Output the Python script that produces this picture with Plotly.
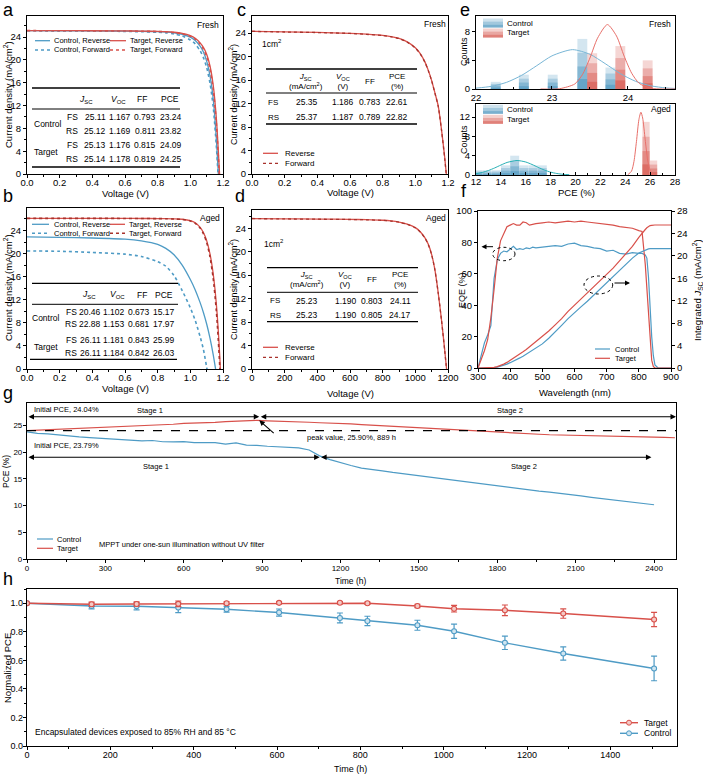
import plotly.graph_objects as go

W, H = 703, 774
FONT = "Liberation Sans, Arial, Helvetica, sans-serif"
BLUE = "#4e9bc5"
RED = "#d8504a"
DRED = "#a8322c"
TEAL = "#27b0b5"
LBLUE = "#78b6d6"
LRED = "#e8706a"

# ---------------- data ----------------
volt = [0, 0.2, 0.4, 0.6, 0.7, 0.8, 0.85, 0.9, 0.95, 1.0, 1.03, 1.06, 1.08, 1.10, 1.12, 1.14, 1.16, 1.18, 1.20]
volt_mv = [0, 200, 400, 600, 700, 800, 850, 900, 950, 1000, 1030, 1060, 1080, 1100, 1120, 1140, 1160, 1180, 1200]
# panel a (fresh)
a_ctrl_rev = [25.12, 25.11, 25.09, 25.05, 25.01, 24.95, 24.88, 24.75, 24.5, 24.0, 23.4, 22.4, 21.4, 19.8, 17.3, 13.2, 5.8, -4.5, -15]
a_ctrl_fwd = [25.11, 25.09, 25.06, 25.0, 24.94, 24.85, 24.75, 24.55, 24.2, 23.5, 22.8, 21.6, 20.4, 18.7, 16.0, 11.8, 4.6, -5.5, -16]
a_tgt_rev = [25.14, 25.13, 25.11, 25.08, 25.05, 25.0, 24.95, 24.85, 24.65, 24.25, 23.8, 23.0, 22.2, 21.0, 19.0, 15.6, 9.5, -0.5, -12]
a_tgt_fwd = [25.13, 25.12, 25.10, 25.07, 25.03, 24.98, 24.92, 24.8, 24.58, 24.15, 23.65, 22.8, 21.9, 20.6, 18.5, 14.9, 8.6, -1.5, -13]
# panel b (aged)
b_ctrl_rev = [22.88, 22.8, 22.7, 22.5, 22.2, 21.6, 20.9, 19.8, 18.0, 15.5, 13.7, 11.5, 9.8, 7.8, 5.4, 2.5, -1.0, -5.0, -10.0]
b_ctrl_fwd = [20.46, 20.4, 20.2, 19.9, 19.5, 18.6, 17.8, 16.2, 13.6, 10.6, 8.4, 5.6, 3.4, 0.3, -3.0, -6.0, -9.0, -12.0, -15.0]
b_tgt_rev = [26.11, 26.1, 26.1, 26.09, 26.08, 26.07, 26.05, 26.02, 25.95, 25.71, 25.33, 24.55, 23.65, 22.25, 20.0, 16.5, 11.0, 2.3, -11.5]
b_tgt_fwd = [26.11, 26.1, 26.1, 26.09, 26.08, 26.06, 26.04, 26.0, 25.92, 25.66, 25.25, 24.42, 23.45, 21.95, 19.5, 15.7, 9.8, 0.6, -13.0]
# panel c (1 cm2 fresh)
c_rev = [24.3, 24.2, 24.1, 23.95, 23.8, 23.6, 23.4, 23.1, 22.5, 21.5, 20.5, 19.0, 17.6, 15.9, 13.8, 11.6, 7.6, 2.8, -3.0]
c_fwd = [24.28, 24.18, 24.08, 23.93, 23.78, 23.57, 23.37, 23.06, 22.45, 21.45, 20.45, 18.95, 17.55, 15.85, 13.75, 11.55, 7.5, 2.6, -3.2]
# panel d (1 cm2 aged)
d_rev = [25.65, 25.6, 25.55, 25.5, 25.45, 25.35, 25.25, 25.05, 24.7, 24.1, 23.4, 22.3, 21.2, 19.5, 16.9, 13.0, 8.4, 3.2, -2.5]
d_fwd = [25.63, 25.58, 25.53, 25.48, 25.43, 25.33, 25.22, 25.02, 24.67, 24.06, 23.36, 22.25, 21.15, 19.45, 16.85, 12.95, 8.35, 3.1, -2.6]

tab_a = [["25.11", "1.167", "0.793", "23.24"], ["25.12", "1.169", "0.811", "23.82"],
         ["25.13", "1.176", "0.815", "24.09"], ["25.14", "1.178", "0.819", "24.25"]]
tab_b = [["20.46", "1.102", "0.673", "15.17"], ["22.88", "1.153", "0.681", "17.97"],
         ["26.11", "1.181", "0.843", "25.99"], ["26.11", "1.184", "0.842", "26.03"]]
tab_c = [["25.35", "1.186", "0.783", "22.61"], ["25.37", "1.187", "0.789", "22.82"]]
tab_d = [["25.23", "1.190", "0.803", "24.11"], ["25.23", "1.190", "0.805", "24.17"]]

# panel e histograms
e_fresh_ctrl_x = [22.26, 22.63, 23.01, 23.40, 23.77]
e_fresh_ctrl_n = [1, 2, 2, 7, 3]
e_fresh_tgt_x = [23.53, 23.90, 24.26]
e_fresh_tgt_n = [5, 6, 4]
e_fresh_ctrl_fit_x = [22.0, 22.2, 22.4, 22.6, 22.8, 23.0, 23.27, 23.5, 23.7, 23.9, 24.1, 24.3, 24.5, 24.62]
e_fresh_ctrl_fit_y = [0.12, 0.37, 0.92, 1.9, 3.26, 4.63, 5.5, 4.85, 3.55, 2.15, 1.08, 0.45, 0.15, 0.08]
e_fresh_tgt_fit_x = [22.85, 23.1, 23.3, 23.4, 23.5, 23.6, 23.73, 23.85, 23.95, 24.05, 24.15, 24.3, 24.45, 24.62]
e_fresh_tgt_fit_y = [0.0, 0.04, 0.7, 1.99, 4.33, 7.1, 9.0, 7.4, 4.6, 2.2, 0.78, 0.1, 0.0, 0.0]
e_aged_ctrl_x = [12.15, 12.89, 13.63, 14.37, 15.11, 15.85, 16.59, 17.33]
e_aged_ctrl_n = [1, 1, 1, 2, 4, 2, 2, 2]
e_aged_tgt_x = [25.67, 26.28]
e_aged_tgt_n = [11, 3]
e_aged_ctrl_fit_x = [12.0, 12.5, 13.0, 13.5, 14.0, 14.5, 15.3, 16.0, 16.5, 17.0, 17.5, 18.0, 18.5, 19.0, 19.5]
e_aged_ctrl_fit_y = [0.27, 0.53, 0.93, 1.46, 2.06, 2.6, 3.0, 2.69, 2.18, 1.58, 1.02, 0.59, 0.31, 0.14, 0.06]
e_aged_tgt_fit_x = [24.2, 24.5, 24.7, 24.9, 25.1, 25.26, 25.4, 25.6, 25.8, 26.0, 26.2, 26.4]
e_aged_tgt_fit_y = [0.05, 0.78, 2.8, 6.9, 11.5, 13.0, 11.8, 7.4, 3.1, 0.9, 0.17, 0.02]

# panel f EQE / integrated Jsc
wl = [300, 310, 320, 330, 340, 350, 360, 370, 380, 390, 400, 410, 420, 430, 440, 450, 460, 470, 480,
      500, 520, 540, 560, 580, 600, 620, 640, 660, 680, 700, 720, 740, 760, 780, 800,
      810, 820, 825, 830, 835, 840, 845, 850, 860, 880, 900]
eqe_ctrl = [0, 8, 16, 21, 27, 57, 69, 73, 74.5, 74, 76, 77.5, 75.5, 76, 75.5, 76.5, 76, 77, 76.5,
            77, 77.5, 78, 77.5, 79, 79.5, 78, 77.5, 76.5, 76, 74.5, 75, 73, 72.5, 73.5, 73,
            73, 72, 70, 58, 35, 20, 8, 2, 0, 0, 0]
eqe_tgt = [0, 5, 11, 18, 32, 50, 70, 81, 86, 90, 91, 92, 91, 91, 93, 92.5, 91, 91.5, 92,
           92.5, 93, 92.5, 93, 93.5, 93, 93.5, 93, 92.5, 92, 91.5, 91, 90, 89.5, 89, 87.5,
           87, 66, 50, 30, 14, 5, 1, 0, 0, 0, 0]
jint_ctrl = [0, 0, 0, 0, 0, 0.05, 0.15, 0.3, 0.5, 0.7, 0.95, 1.2, 1.5, 1.8, 2.1, 2.45, 2.8, 3.15, 3.5,
             4.3, 5.3, 6.4, 7.6, 8.8, 9.9, 10.9, 11.9, 13.0, 14.1, 15.2, 16.3, 17.5, 18.6, 19.6, 20.5,
             20.8, 21.05, 21.15, 21.25, 21.3, 21.3, 21.3, 21.3, 21.3, 21.3, 21.3]
jint_tgt = [0, 0, 0, 0, 0, 0.1, 0.25, 0.45, 0.7, 1.0, 1.35, 1.7, 2.1, 2.5, 2.9, 3.3, 3.75, 4.2, 4.65,
            5.6, 6.6, 7.7, 8.8, 10.1, 11.2, 12.2, 13.3, 14.4, 15.5, 16.6, 17.8, 19.1, 20.4, 21.7, 23.3,
            24.1, 24.7, 25.0, 25.25, 25.4, 25.45, 25.5, 25.5, 25.5, 25.5, 25.5]

# panel g MPPT
time_g_tgt = list(range(0, 2481, 40))
pce_g_tgt = [24.04, 24.12, 24.18, 24.3, 24.35, 24.45, 24.5, 24.62, 24.68, 24.75,
             24.88, 24.92, 25.05, 25.15, 25.22, 25.38, 25.42, 25.55, 25.58, 25.7,
             25.78, 25.85, 25.95, 25.86, 25.82, 25.74, 25.66, 25.6, 25.5, 25.46,
             25.34, 25.3, 25.16, 25.05, 24.96, 24.8, 24.72, 24.6, 24.5, 24.36,
             24.26, 24.1, 24.02, 23.9, 23.82, 23.7, 23.62, 23.5, 23.46, 23.35,
             23.26, 23.2, 23.16, 23.08, 23.06, 22.98, 22.96, 22.92, 22.9, 22.84,
             22.8, 22.76, 22.7]
time_g_ctrl = list(range(0, 2401, 40))
pce_g_ctrl = [23.79, 23.5, 23.42, 23.2, 23.05, 22.85, 22.72, 22.6, 22.52, 22.35,
              22.32, 22.1, 22.18, 21.95, 21.92, 21.98, 21.8, 21.72, 21.78, 21.5,
              21.72, 21.3, 21.28, 21.1, 21.02, 20.9, 20.8, 20.4, 19.3, 18.6,
              18.0, 17.5, 17.0, 16.8, 16.5, 16.2, 15.95, 15.7, 15.4, 15.1,
              14.85, 14.6, 14.35, 14.1, 13.85, 13.6, 13.4, 13.15, 12.95, 12.7,
              12.5, 12.3, 12.05, 11.8, 11.55, 11.3, 11.05, 10.8, 10.55, 10.35,
              10.15]
init_pce_tgt = 24.04
peak_time, peak_pce = 889, 25.90
split_ctrl = 1120

# panel h damp heat
h_time = [0, 155, 263, 363, 479, 605, 751, 817, 937, 1025, 1147, 1287, 1505]
h_tgt = [1.0, 0.993, 0.995, 0.996, 1.0, 1.003, 1.004, 1.0, 0.981, 0.962, 0.951, 0.928, 0.886]
h_tgt_err = [0.005, 0.015, 0.015, 0.02, 0.01, 0.008, 0.008, 0.008, 0.012, 0.023, 0.037, 0.033, 0.05]
h_ctrl = [1.0, 0.981, 0.979, 0.970, 0.958, 0.935, 0.897, 0.876, 0.846, 0.804, 0.723, 0.648, 0.543]
h_ctrl_err = [0.005, 0.02, 0.025, 0.035, 0.02, 0.025, 0.035, 0.033, 0.035, 0.05, 0.047, 0.047, 0.086]

# ---------------- helpers ----------------
fig = go.Figure()
ann, shp = [], []


def xd(a, b):
    return [a / W, b / W]


def yd(top, bot):
    return [1 - bot / H, 1 - top / H]


def txt(x, y, s, size=8.5, xa='center', angle=0, color='black'):
    ann.append(dict(x=x / W, y=1 - y / H, xref='paper', yref='paper', text=s, showarrow=False,
                    xanchor=xa, yanchor='middle', textangle=angle,
                    font=dict(size=size, color=color, family=FONT)))


def hl(x0, x1, y, width=1.0, color='black', dash='solid'):
    shp.append(dict(type='line', xref='paper', yref='paper', x0=x0 / W, x1=x1 / W,
                    y0=1 - y / H, y1=1 - y / H, line=dict(color=color, width=width, dash=dash)))


def rect(x0, x1, y0, y1, fill):
    shp.append(dict(type='rect', xref='paper', yref='paper', x0=x0 / W, x1=x1 / W,
                    y0=1 - y1 / H, y1=1 - y0 / H, line=dict(width=0), fillcolor=fill))


def tr(x, y, xa, ya, color, width=1.3, dash='solid', shape='spline'):
    fig.add_trace(go.Scatter(x=x, y=y, mode='lines', xaxis=xa, yaxis=ya, showlegend=False,
                             hoverinfo='skip',
                             line=dict(color=color, width=width, dash=dash, shape=shape, smoothing=0.7)))


def grad_bars(xs, ns, rgb, width, xa, ya):
    for frac, alpha in [(1.0, 0.22), (0.72, 0.28), (0.45, 0.34), (0.2, 0.42)]:
        fig.add_trace(go.Bar(x=xs, y=[n * frac for n in ns], width=width, xaxis=xa, yaxis=ya,
                             showlegend=False, hoverinfo='skip',
                             marker=dict(color=f'rgba({rgb},{alpha})', line=dict(width=0))))


def grad_patch(x0, x1, y0, y1, rgb):
    hgt = y1 - y0
    rect(x0, x1, y0, y1, f'rgba({rgb},0.25)')
    rect(x0, x1, y0 + hgt * 0.35, y1, f'rgba({rgb},0.3)')
    rect(x0, x1, y0 + hgt * 0.7, y1, f'rgba({rgb},0.4)')


def arrow_data(xh, yh, xt, yt, xref, yref, both=False):
    ann.append(dict(x=xh, y=yh, ax=xt, ay=yt, xref=xref, yref=yref, axref=xref, ayref=yref,
                    text='', showarrow=True, arrowhead=2, arrowsize=1, arrowwidth=1.1,
                    arrowcolor='black', arrowside='end+start' if both else 'end'))


def arrow_px(xh, yh, dx, dy):
    ann.append(dict(x=xh / W, y=1 - yh / H, xref='paper', yref='paper', ax=dx, ay=dy,
                    text='', showarrow=True, arrowhead=2, arrowsize=1, arrowwidth=1,
                    arrowcolor='black'))


# ---------------- traces ----------------
# a
tr(volt, a_ctrl_rev, 'x', 'y', BLUE)
tr(volt, a_tgt_rev, 'x', 'y', RED)
tr(volt, a_ctrl_fwd, 'x', 'y', BLUE, width=1.6, dash='dot')
tr(volt, a_tgt_fwd, 'x', 'y', RED, width=1.6, dash='dot')
# b
tr(volt, b_ctrl_rev, 'x2', 'y2', BLUE)
tr(volt, b_tgt_rev, 'x2', 'y2', RED)
tr(volt, b_ctrl_fwd, 'x2', 'y2', BLUE, width=1.6, dash='dot')
tr(volt, b_tgt_fwd, 'x2', 'y2', DRED, width=1.6, dash='dot')
# c
tr(volt, c_rev, 'x3', 'y3', RED)
tr(volt, c_fwd, 'x3', 'y3', DRED, width=1.3, dash='dot')
# d
tr(volt_mv, d_rev, 'x4', 'y4', RED)
tr(volt_mv, d_fwd, 'x4', 'y4', DRED, width=1.3, dash='dot')
# e
grad_bars(e_fresh_ctrl_x, e_fresh_ctrl_n, '60,140,185', 0.13, 'x5', 'y5')
grad_bars(e_fresh_tgt_x, e_fresh_tgt_n, '210,70,60', 0.13, 'x5', 'y5')
tr(e_fresh_ctrl_fit_x, e_fresh_ctrl_fit_y, 'x5', 'y5', LBLUE, width=1)
tr(e_fresh_tgt_fit_x, e_fresh_tgt_fit_y, 'x5', 'y5', LRED, width=1)
grad_bars(e_aged_ctrl_x, e_aged_ctrl_n, '60,140,185', 0.72, 'x6', 'y6')
grad_bars(e_aged_tgt_x, e_aged_tgt_n, '210,70,60', 0.58, 'x6', 'y6')
tr(e_aged_ctrl_fit_x, e_aged_ctrl_fit_y, 'x6', 'y6', TEAL, width=1)
tr(e_aged_tgt_fit_x, e_aged_tgt_fit_y, 'x6', 'y6', LRED, width=1)
# f
tr(wl, eqe_ctrl, 'x7', 'y7', BLUE, width=1.2, shape='linear')
tr(wl, eqe_tgt, 'x7', 'y7', RED, width=1.2, shape='linear')
tr(wl, jint_ctrl, 'x7', 'y10', BLUE, width=1.2, shape='linear')
tr(wl, jint_tgt, 'x7', 'y10', RED, width=1.2, shape='linear')
# g
tr(time_g_tgt, pce_g_tgt, 'x8', 'y8', RED, width=1.2, shape='linear')
tr(time_g_ctrl, pce_g_ctrl, 'x8', 'y8', BLUE, width=1.2, shape='linear')
# h
for ys, err, col, fill in [(h_ctrl, h_ctrl_err, BLUE, '#cfe5f1'), (h_tgt, h_tgt_err, RED, '#f4c9c5')]:
    fig.add_trace(go.Scatter(x=h_time, y=ys, mode='lines+markers', xaxis='x9', yaxis='y9',
                             showlegend=False, hoverinfo='skip',
                             line=dict(color=col, width=1.4),
                             marker=dict(symbol='circle', size=5, color=fill, line=dict(color=col, width=1.1)),
                             error_y=dict(type='data', array=err, color=col, thickness=1.2, width=3)))

# ---------------- tables & text ----------------
# a table
hl(32, 180, 88, 1.3); hl(32, 180, 109, 1.0); hl(32, 180, 167, 1.3)
for s, x in zip(['<i>J</i><sub>SC</sub>', '<i>V</i><sub>OC</sub>', 'FF', 'PCE'], [86, 118, 142, 170]):
    txt(x, 99, s, 8.5)
for i, (lab, y) in enumerate(zip(['FS', 'RS', 'FS', 'RS'], [117, 131, 145, 159])):
    txt(72, y, lab, 8.5)
    for v, x in zip(tab_a[i], [95, 120, 145, 171]):
        txt(x, y, v, 8.5)
txt(48, 124, 'Control', 8.5); txt(46, 152, 'Target', 8.5)
# b table
hl(32, 178, 283.3, 1.3); hl(32, 178, 304.3, 1.0); hl(30, 177, 359.3, 1.3)
for s, x in zip(['<i>J</i><sub>SC</sub>', '<i>V</i><sub>OC</sub>', 'FF', 'PCE'], [89, 117, 142, 164]):
    txt(x, 295, s, 8.5)
for i, (lab, y) in enumerate(zip(['FS', 'RS', 'FS', 'RS'], [311.7, 324.3, 340, 353.3])):
    txt(71, y, lab, 8.5)
    for v, x in zip(tab_b[i], [90, 114, 139, 164]):
        txt(x, y, v, 8.5)
txt(46, 318, 'Control', 8.5); txt(46, 347, 'Target', 8.5)
# c table
hl(266, 417, 69, 1.3); hl(266, 417, 93, 1.0); hl(266, 417, 124, 1.3)
heads = ['<i>J</i><sub>SC</sub><br>(mA/cm<sup>2</sup>)', '<i>V</i><sub>OC</sub><br>(V)', 'FF', 'PCE<br>(%)']
for s, x in zip(heads, [306, 343, 370, 397]):
    txt(x, 81.5, s, 8)
for i, (lab, y) in enumerate(zip(['FS', 'RS'], [102, 117])):
    txt(273, y, lab, 8)
    for v, x in zip(tab_c[i], [306.7, 343.3, 370, 397.3]):
        txt(x, y, v, 8.5)
# d table
hl(267, 418, 267.7, 1.3); hl(267, 418, 292.3, 1.0); hl(267, 418, 321.7, 1.3)
for s, x in zip(heads, [306.7, 345, 371.7, 400]):
    txt(x, 279, s, 8)
for i, (lab, y) in enumerate(zip(['FS', 'RS'], [300.7, 315])):
    txt(275, y, lab, 8)
    for v, x in zip(tab_d[i], [307, 345.5, 372.5, 400]):
        txt(x, y, v, 8.5)

# legends a/b
for y, dash in [(40.7, 'solid'), (50, 'dot')]:
    w = 1.3 if dash == 'solid' else 1.6
    hl(35, 50, y, w, BLUE, dash); hl(110, 126, y, w, RED, dash)
txt(52, 40.7, 'Control, Reverse', 7.5, 'left'); txt(128, 40.7, 'Target, Reverse', 7.5, 'left')
txt(52, 50, 'Control, Forward', 7.5, 'left'); txt(128, 50, 'Target, Forward', 7.5, 'left')
for y, dash in [(224.3, 'solid'), (233.3, 'dot')]:
    w = 1.3 if dash == 'solid' else 1.6
    hl(32, 49, y, w, BLUE, dash); hl(110, 125, y, w, RED if dash == 'solid' else DRED, dash)
txt(52, 224.3, 'Control, Reverse', 7.5, 'left'); txt(127, 224.3, 'Target, Reverse', 7.5, 'left')
txt(52, 233.3, 'Control, Forward', 7.5, 'left'); txt(127, 233.3, 'Target, Forward', 7.5, 'left')
# legends c/d
for y0 in [153.3, 347.3]:
    hl(263, 278, y0, 1.3, RED); txt(283, y0, 'Reverse', 8, 'left')
    hl(263, 278, y0 + 10, 1.3, DRED, 'dot'); txt(283, y0 + 10, 'Forward', 8, 'left')
txt(260, 43, '1cm<sup>2</sup>', 8.5, 'left'); txt(262, 243, '1cm<sup>2</sup>', 8.5, 'left')
txt(208, 25, 'Fresh', 8.5); txt(210, 217.7, 'Aged', 8.5)
txt(435, 24, 'Fresh', 8.5); txt(436, 218, 'Aged', 8.5)
# e legends
for yc in [23, 109.3]:
    grad_patch(483, 503, yc - 4.5, yc + 4.5, '60,140,185'); txt(505, yc, 'Control', 8, 'left')
    grad_patch(483, 503, yc + 5.5, yc + 14.5, '210,70,60'); txt(505, yc + 10, 'Target', 8, 'left')
txt(660, 24, 'Fresh', 8.5); txt(661, 109.3, 'Aged', 8.5)
# f legend and ellipses
hl(595, 610, 349, 1.2, BLUE); txt(613, 349, 'Control', 7.5, 'left')
hl(595, 610, 358.3, 1.2, RED); txt(613, 358.3, 'Target', 7.5, 'left')
shp.append(dict(type='circle', xref='paper', yref='paper', x0=492.7 / W, x1=515 / W,
                y0=1 - 260.7 / H, y1=1 - 247.3 / H, line=dict(color='black', width=1, dash='dot')))
shp.append(dict(type='circle', xref='paper', yref='paper', x0=584 / W, x1=612.7 / W,
                y0=1 - 294 / H, y1=1 - 276 / H, line=dict(color='black', width=1, dash='dot')))
arrow_px(481.5, 246.7, 13, 0)
arrow_px(630, 283, -17, 0)
# g annotations
shp.append(dict(type='line', xref='x8 domain', yref='y8', x0=0, x1=1, y0=init_pce_tgt, y1=init_pce_tgt,
                line=dict(color='black', width=1.3, dash='dash')))
arrow_data(peak_time, 26.64, 0, 26.64, 'x8', 'y8', both=True)
arrow_data(2484, 26.64, peak_time, 26.64, 'x8', 'y8', both=True)
arrow_data(split_ctrl, 19.04, 0, 19.04, 'x8', 'y8', both=True)
arrow_data(2390, 19.04, split_ctrl, 19.04, 'x8', 'y8', both=True)
arrow_data(peak_time, peak_pce + 0.05, 950, 23.3, 'x8', 'y8')
txt(32, 409, 'Initial PCE, 24.04%', 7.5, 'left')
txt(150, 410, 'Stage 1', 7.5); txt(510, 410, 'Stage 2', 7.5)
txt(32, 445.7, 'Initial PCE, 23.79%', 7.5, 'left')
txt(155.6, 466, 'Stage 1', 7.5); txt(524, 466, 'Stage 2', 7.5)
txt(305, 437.7, 'peak value, 25.90%, 889 h', 7.5, 'left')
txt(97, 544.3, 'MPPT under one-sun illumination without UV filter', 7.5, 'left')
hl(37, 53, 539, 1.2, BLUE); txt(55, 539, 'Control', 7.5, 'left')
hl(37, 53, 548.3, 1.2, RED); txt(55, 548.3, 'Target', 7.5, 'left')
# h legend & text
for yc, col, fill, lab in [(722.7, RED, '#f4c9c5', 'Target'), (733.3, BLUE, '#cfe5f1', 'Control')]:
    hl(620, 638, yc, 1.4, col)
    shp.append(dict(type='circle', xref='paper', yref='paper', x0=626.5 / W, x1=631.5 / W,
                    y0=1 - (yc + 2.5) / H, y1=1 - (yc - 2.5) / H, fillcolor=fill, line=dict(color=col, width=1)))
    txt(641.7, yc, lab, 8.5, 'left')
txt(33, 731.7, 'Encapsulated devices exposed to 85% RH and 85 °C', 8.5, 'left')

# panel letters
for s, x, y in [('a', 8, 10), ('b', 8, 196), ('c', 241, 10), ('d', 240, 196), ('e', 465, 10),
                ('f', 464, 191), ('g', 8, 393), ('h', 8, 579)]:
    txt(x, y, s, 18)

# axis titles
JT = 'Current density (mA/cm<sup>2</sup>)'
txt(125, 193, 'Voltage (V)', 9.5); txt(8, 95, JT, 9.5, angle=-90)
txt(125, 388, 'Voltage (V)', 9.5); txt(8, 288, JT, 9.5, angle=-90)
txt(350, 192, 'Voltage (V)', 9.5); txt(233, 95, JT, 9, angle=-90)
txt(350, 393, 'Voltage (V)', 9.5); txt(233, 290, JT, 9, angle=-90)
txt(464, 52, 'Counts', 9, angle=-90); txt(464, 140, 'Counts', 9, angle=-90)
txt(576, 192, 'PCE (%)', 9.5)
txt(575, 392, 'Wavelength (nm)', 9.5); txt(462, 290, 'EQE (%)', 9, angle=-90)
txt(697, 290, 'Integrated <i>J</i><sub>SC</sub> (mA/cm<sup>2</sup>)', 9.5, angle=-90)
txt(350, 581, 'Time (h)', 8.5); txt(6, 472, 'PCE (%)', 8.5, angle=-90)
txt(350, 769, 'Time (h)', 9); txt(7, 668, 'Normalized PCE', 9.5, angle=-90)


# ---------------- axes ----------------
def axd(domain, rng, anchor, fs=9.5, **kw):
    d = dict(domain=domain, range=rng, anchor=anchor, showline=True, linecolor='black', linewidth=1.2,
             mirror=True, ticks='outside', ticklen=3, tickwidth=1, tickcolor='black', showgrid=False,
             zeroline=False, tickfont=dict(size=fs, family=FONT, color='black'))
    d.update(kw)
    return d


def mn(dt):
    return dict(ticks='outside', ticklen=2, tickcolor='black', dtick=dt, showgrid=False)


SO = -4
vx = dict(tick0=0, dtick=0.2, tickformat='.1f', minor=mn(0.1), ticklabelstandoff=SO)
jy = dict(tick0=0, dtick=4, minor=mn(2))
layout = dict(
    width=W, height=H, margin=dict(l=0, r=0, t=0, b=0), template='none',
    paper_bgcolor='white', plot_bgcolor='white', showlegend=False, barmode='overlay',
    font=dict(family=FONT, size=9.5, color='black'),
    annotations=ann, shapes=shp,
    xaxis=axd(xd(27, 223), [0, 1.2], 'y', **vx),
    yaxis=axd(yd(16, 174), [0, 27.7], 'x', **jy),
    xaxis2=axd(xd(27, 223), [0, 1.2], 'y2', **vx),
    yaxis2=axd(yd(208, 369), [0, 27.9], 'x2', **jy),
    xaxis3=axd(xd(252, 448), [0, 1.2], 'y3', **vx),
    yaxis3=axd(yd(16, 174), [0, 26.9], 'x3', **jy),
    xaxis4=axd(xd(252, 448), [0, 1200], 'y4', tick0=0, dtick=200, minor=mn(100), ticklabelstandoff=SO),
    yaxis4=axd(yd(210, 369), [0, 27.1], 'x4', **jy),
    xaxis5=axd(xd(476, 675), [22, 24.62], 'y5', tickvals=[22, 23, 24], ticks='inside', ticklabelstandoff=-1,
               minor=dict(ticks='inside', ticklen=2, tickcolor='black', dtick=0.5)),
    yaxis5=axd(yd(16, 89), [0, 10.2], 'x5', tickvals=[0, 4, 8]),
    xaxis6=axd(xd(476, 675), [12, 28], 'y6', tick0=12, dtick=2, ticks='inside', ticklabelstandoff=-3,
               minor=dict(ticks='inside', ticklen=2, tickcolor='black', dtick=1)),
    yaxis6=axd(yd(104, 175), [0, 14.7], 'x6', tickvals=[0, 4, 8, 12]),
    xaxis7=axd(xd(478, 671), [300, 900], 'y7', tick0=300, dtick=100, ticklabelstandoff=SO),
    yaxis7=axd(yd(211, 368), [0, 100], 'x7', dtick=20, mirror=False),
    yaxis10=axd(yd(211, 368), [0, 28], 'x7', overlaying='y7', side='right', dtick=4, mirror=False),
    xaxis8=axd(xd(27, 676), [0, 2484], 'y8', fs=8, tick0=0, dtick=300, minor=mn(150), ticklabelstandoff=-2),
    yaxis8=axd(yd(403, 559), [0, 29.2], 'x8', fs=8, tick0=0, dtick=5, ticklabelstandoff=-1),
    xaxis9=axd(xd(27, 677), [0, 1560], 'y9', fs=9, tick0=0, dtick=200, minor=mn(100), ticklabelstandoff=-3),
    yaxis9=axd(yd(589, 746), [0, 1.1], 'x9', fs=9, tickvals=[0, 0.2, 0.4, 0.6, 0.8, 1.0], tickformat='.1f',
               minor=mn(0.1), ticklabelstandoff=-2),
)
fig.update_layout(**layout)
fig.write_html("out.html", config={'displayModeBar': False},
               post_script="document.body.style.margin='0px';document.body.style.overflow='hidden';")
